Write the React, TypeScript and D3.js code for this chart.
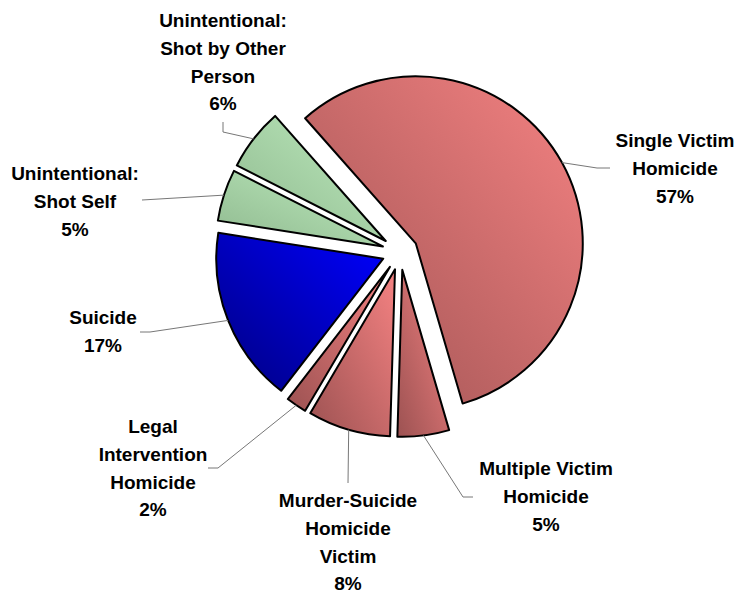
import React from "react";
import * as d3 from "d3";

// ---- data ----
const categories = [
  "Single Victim Homicide",
  "Multiple Victim Homicide",
  "Murder-Suicide Homicide Victim",
  "Legal Intervention Homicide",
  "Suicide",
  "Unintentional: Shot Self",
  "Unintentional: Shot by Other Person",
];
const values = [57, 5, 8, 2, 17, 5, 6];
const labelLines = [
  ["Single Victim", "Homicide", "57%"],
  ["Multiple Victim", "Homicide", "5%"],
  ["Murder-Suicide", "Homicide", "Victim", "8%"],
  ["Legal", "Intervention", "Homicide", "2%"],
  ["Suicide", "17%"],
  ["Unintentional:", "Shot Self", "5%"],
  ["Unintentional:", "Shot by Other", "Person", "6%"],
];

// ---- styles / layout ----
const lightColors = ["#F58282", "#F58282", "#F58282", "#F58282", "#0000FF", "#BEEBBE", "#BEEBBE"];
const darkColors = ["#9C5252", "#9C5252", "#9C5252", "#9C5252", "#000080", "#8FB98F", "#8FB98F"];
// label anchor (center x, first baseline y), leader elbow and end
const labelPos = [
  { x: 675, y: 147, elbow: [597, 168], end: [610, 168] },
  { x: 546, y: 475, elbow: [463, 497], end: [473, 497] },
  { x: 348, y: 507, elbow: [348, 483], end: [348, 483] },
  { x: 153, y: 433, elbow: [218, 468], end: [208, 468] },
  { x: 103, y: 324, elbow: [150, 332], end: [140, 332] },
  { x: 75, y: 180, elbow: [142, 200], end: [142, 200] },
  { x: 223, y: 27, elbow: [223, 132], end: [223, 122] },
];

const W = 739;
const H = 590;
const cx = 400;
const cy = 252;
const R = 167;
const explode = 18;
const lineH = 27.8;
const deg = Math.PI / 180;

export default function App() {
  const pie = d3
    .pie<number>()
    .sort(null)
    .value((d) => d)
    .startAngle(-41.5 * deg)
    .endAngle(318.5 * deg);
  const arcs = pie(values);
  const arcGen = d3.arc<d3.PieArcDatum<number>>().innerRadius(0).outerRadius(R);

  return (
    <svg
      width={W}
      height={H}
      style={{ position: "absolute", left: 0, top: 0, background: "#fff" }}
      fontFamily="'Liberation Sans', Arial, sans-serif"
    >
      <defs>
        {values.map((_, i) => (
          <linearGradient key={i} id={`grad${i}`} x1="0" y1="1" x2="1" y2="0">
            <stop offset="0" stopColor={darkColors[i]} />
            <stop offset="1" stopColor={lightColors[i]} />
          </linearGradient>
        ))}
      </defs>
      {arcs.map((a, i) => {
        const mid = (a.startAngle + a.endAngle) / 2;
        const dx = Math.sin(mid) * explode;
        const dy = -Math.cos(mid) * explode;
        const ox = cx + dx;
        const oy = cy + dy;
        const sx = ox + Math.sin(mid) * R;
        const sy = oy - Math.cos(mid) * R;
        const lp = labelPos[i];
        return (
          <g key={categories[i]}>
            <path
              d={arcGen(a) || ""}
              transform={`translate(${ox},${oy})`}
              fill={`url(#grad${i})`}
              stroke="#000"
              strokeWidth={2}
              strokeLinejoin="round"
            />
            <polyline
              points={`${sx},${sy} ${lp.elbow[0]},${lp.elbow[1]} ${lp.end[0]},${lp.end[1]}`}
              fill="none"
              stroke="#777"
              strokeWidth={1}
            />
          </g>
        );
      })}
      {labelLines.map((lines, i) => (
        <text
          key={i}
          x={labelPos[i].x}
          y={labelPos[i].y}
          textAnchor="middle"
          fontSize={19}
          fontWeight="bold"
          fill="#000"
        >
          {lines.map((l, j) => (
            <tspan key={j} x={labelPos[i].x} y={labelPos[i].y + j * lineH}>
              {l}
            </tspan>
          ))}
        </text>
      ))}
    </svg>
  );
}
